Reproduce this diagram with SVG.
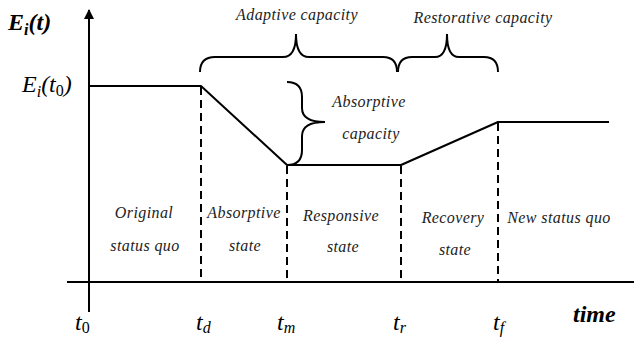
<svg xmlns="http://www.w3.org/2000/svg" width="634" height="337" viewBox="0 0 634 337">
<defs>
<style>
.ax{stroke:#000;stroke-width:2;fill:none}
.ln{stroke:#000;stroke-width:2;fill:none;stroke-linejoin:round}
.ds{stroke:#000;stroke-width:2;fill:none;stroke-dasharray:8,5}
.br{stroke:#000;stroke-width:2;fill:none}
.lb{font-family:"Liberation Serif",serif;font-style:italic;font-size:16px;fill:#222;text-anchor:middle;letter-spacing:0.4px}
.mt{font-family:"Liberation Serif",serif;font-style:italic;font-size:24px;fill:#000}
.sb{font-size:16px}
</style>
<marker id="arr" viewBox="0 0 10 10" refX="9" refY="5" markerWidth="10" markerHeight="10" markerUnits="userSpaceOnUse" orient="auto">
<path d="M0,0 L10,5 L0,10 Z" fill="#000"/>
</marker>
</defs>
<rect width="634" height="337" fill="#fff"/>
<g id="axes">
<line class="ax" x1="89" y1="312" x2="89" y2="10" marker-end="url(#arr)"/>
<line class="ax" x1="67" y1="282" x2="634" y2="282"/>
</g>
<g id="connectors">
<polyline class="ln" points="89,86 201,86 287,165 401,165 498,122 609,122"/>
<line class="ds" x1="201" y1="87" x2="201" y2="282"/>
<line class="ds" x1="287" y1="166" x2="287" y2="282"/>
<line class="ds" x1="401" y1="166" x2="401" y2="282"/>
<line class="ds" x1="498" y1="123" x2="498" y2="282"/>
</g>
<g id="brace-adaptive">
<path class="br" d="M200,72 Q200,57 215,57 L283,57 Q296,57 296,34 Q296,57 309,57 L383,57 Q397,57 397,72"/>
<text class="lb" x="297" y="20">Adaptive capacity</text>
</g>
<g id="brace-restorative">
<path class="br" d="M398,72 Q398,57 412,57 L435,57 Q447,57 447,34 Q447,57 459,57 L484,57 Q498,57 498,72"/>
<text class="lb" x="483" y="23">Restorative capacity</text>
</g>
<g id="brace-absorptive">
<path class="br" d="M287,82 Q302,82 302,97 L302,108 Q302,122 325,122 Q302,122 302,136 L302,150 Q302,165 287,165"/>
<text class="lb" x="369" y="107">Absorptive</text>
<text class="lb" x="371" y="139">capacity</text>
</g>
<g id="y-label">
<text class="mt" x="8" y="30" font-weight="bold">E<tspan class="sb" dy="5">i</tspan><tspan dy="-5">(t)</tspan></text>
<text class="mt" x="22" y="92">E<tspan class="sb" dy="5">i</tspan><tspan dy="-5">(t</tspan><tspan class="sb" dy="4" font-style="normal">0</tspan><tspan dy="-4">)</tspan></text>
</g>
<g id="phase-original">
<text class="lb" x="144" y="218">Original</text>
<text class="lb" x="145" y="251">status quo</text>
</g>
<g id="phase-absorptive">
<text class="lb" x="244" y="218">Absorptive</text>
<text class="lb" x="245" y="251">state</text>
</g>
<g id="phase-responsive">
<text class="lb" x="341" y="221">Responsive</text>
<text class="lb" x="343" y="252">state</text>
</g>
<g id="phase-recovery">
<text class="lb" x="453" y="223">Recovery</text>
<text class="lb" x="455" y="255">state</text>
</g>
<g id="phase-new">
<text class="lb" x="559" y="223">New status quo</text>
</g>
<g id="ticks">
<text class="mt" x="75" y="330">t<tspan class="sb" dy="3" font-style="normal">0</tspan></text>
<text class="mt" x="196" y="330">t<tspan class="sb" dy="3">d</tspan></text>
<text class="mt" x="277" y="330">t<tspan class="sb" dy="3">m</tspan></text>
<text class="mt" x="393" y="330">t<tspan class="sb" dy="3">r</tspan></text>
<text class="mt" x="493" y="330">t<tspan class="sb" dy="3">f</tspan></text>
<text class="mt" x="573" y="322" font-weight="bold" font-size="27">time</text>
</g>
</svg>
